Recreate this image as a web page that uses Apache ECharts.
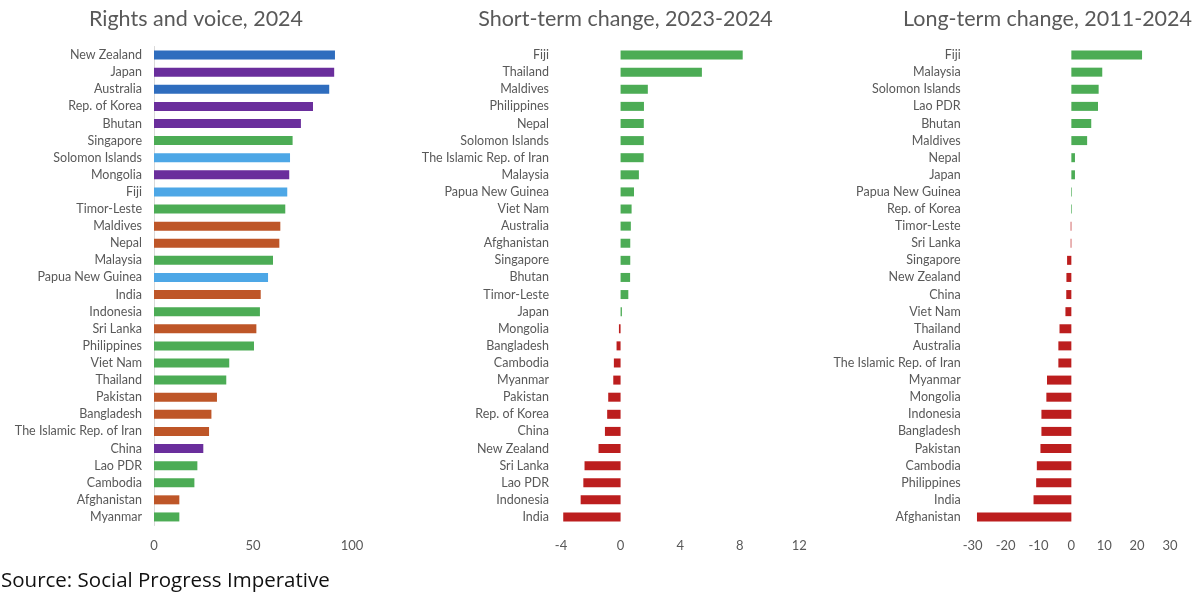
<!DOCTYPE html>
<html>
<head>
<meta charset="utf-8">
<script src="https://cdn.jsdelivr.net/npm/echarts@6/dist/echarts.min.js"></script>
<style>html,body{margin:0;padding:0;background:#fff}#c{width:1200px;height:614px}</style>
</head>
<body>
<div id="c"></div>
<script>
// ---- Data ----
const countries1 = ['New Zealand','Japan','Australia','Rep. of Korea','Bhutan','Singapore','Solomon Islands','Mongolia','Fiji','Timor-Leste','Maldives','Nepal','Malaysia','Papua New Guinea','India','Indonesia','Sri Lanka','Philippines','Viet Nam','Thailand','Pakistan','Bangladesh','The Islamic Rep. of Iran','China','Lao PDR','Cambodia','Afghanistan','Myanmar'];
const values1 = [91.4, 91.0, 88.5, 80.3, 74.2, 70.0, 68.7, 68.3, 67.3, 66.3, 63.8, 63.3, 60.1, 57.6, 53.9, 53.5, 51.7, 50.5, 38.0, 36.5, 31.8, 29.0, 27.8, 24.9, 21.9, 20.4, 12.8, 12.8];
const groups1 = ['A','B','A','B','B','C','D','B','D','C','E','E','C','D','E','C','E','C','C','C','E','E','E','B','C','C','E','C'];

const countries2 = ['Fiji','Thailand','Maldives','Philippines','Nepal','Solomon Islands','The Islamic Rep. of Iran','Malaysia','Papua New Guinea','Viet Nam','Australia','Afghanistan','Singapore','Bhutan','Timor-Leste','Japan','Mongolia','Bangladesh','Cambodia','Myanmar','Pakistan','Rep. of Korea','China','New Zealand','Sri Lanka','Lao PDR','Indonesia','India'];
const values2 = [8.2, 5.46, 1.83, 1.57, 1.56, 1.56, 1.55, 1.23, 0.9, 0.74, 0.69, 0.65, 0.65, 0.64, 0.52, 0.09, -0.11, -0.27, -0.45, -0.49, -0.83, -0.9, -1.05, -1.48, -2.42, -2.5, -2.68, -3.85];

const countries3 = ['Fiji','Malaysia','Solomon Islands','Lao PDR','Bhutan','Maldives','Nepal','Japan','Papua New Guinea','Rep. of Korea','Timor-Leste','Sri Lanka','Singapore','New Zealand','China','Viet Nam','Thailand','Australia','The Islamic Rep. of Iran','Myanmar','Mongolia','Indonesia','Bangladesh','Pakistan','Cambodia','Philippines','India','Afghanistan'];
const values3 = [21.5, 9.4, 8.3, 8.1, 6.05, 4.8, 1.1, 1.1, 0.2, 0.2, -0.2, -0.2, -1.3, -1.5, -1.55, -1.8, -3.6, -3.95, -3.95, -7.4, -7.6, -9.1, -9.1, -9.4, -10.5, -10.7, -11.5, -28.7];

const titles = ['Rights and voice, 2024', 'Short-term change, 2023-2024', 'Long-term change, 2011-2024'];
const sourceText = 'Source: Social Progress Imperative';

// ---- Styles ----
const groupColors = {A:'#2F6DBE', B:'#6A2E9C', C:'#4CAC55', D:'#4DA7E6', E:'#BE5628'};
const posColor = '#4CAC55', negColor = '#BC1E1E';
const FONT = 'Lato, "Noto Sans", sans-serif';
const gray = '#595959';

const gridTop = 46.5, gridH = 479;
const grids = [
  {left:154, top:gridTop, width:198, height:gridH},
  {left:561, top:gridTop, width:238.3, height:gridH},
  {left:972.7, top:gridTop, width:197.3, height:gridH}
];
const xRanges = [
  {min:0, max:100, interval:50},
  {min:-4, max:12, interval:4},
  {min:-30, max:30, interval:10}
];
const cats = [countries1, countries2, countries3];

const chart = echarts.init(document.getElementById('c'));
chart.setOption({
  animation:false,
  textStyle:{fontFamily:FONT},
  title: titles.map((t,i)=>({
    text:t,
    left:[191,620.5,1042.5][i],
    top:3,
    textAlign:'center',
    textStyle:{fontFamily:FONT, fontSize:21.5, fontWeight:'normal', color:gray}
  })).concat([{
    text:sourceText, left:-4, top:566,
    textStyle:{fontFamily:'"Open Sans", sans-serif', fontSize:20.5, fontWeight:'normal', color:'#111'}
  }]),
  grid: grids,
  xAxis: xRanges.map((r,i)=>({
    type:'value', gridIndex:i, min:r.min, max:r.max, interval:r.interval,
    splitLine:{show:false}, axisLine:{show:false}, axisTick:{show:false},
    axisLabel:{color:gray, fontSize:13, margin:14, fontFamily:FONT}
  })),
  yAxis: cats.map((c,i)=>({
    type:'category', gridIndex:i, data:c, inverse:true,
    axisTick:{show:false},
    axisLine:{show:i===0, onZero:false, lineStyle:{color:'#d9d9d9', width:1}},
    axisLabel:{color:gray, fontSize:12.5, margin:12, fontFamily:FONT, interval:0}
  })),
  series:[
    {type:'bar', xAxisIndex:0, yAxisIndex:0, barWidth:9,
     data: values1.map((v,k)=>({value:v, itemStyle:{color:groupColors[groups1[k]]}}))},
    {type:'bar', xAxisIndex:1, yAxisIndex:1, barWidth:9,
     data: values2.map(v=>({value:v, itemStyle:{color: v>=0?posColor:negColor}}))},
    {type:'bar', xAxisIndex:2, yAxisIndex:2, barWidth:9,
     data: values3.map(v=>({value:v, itemStyle:{color: v>=0?posColor:negColor}}))}
  ]
});
</script>
</body>
</html>
